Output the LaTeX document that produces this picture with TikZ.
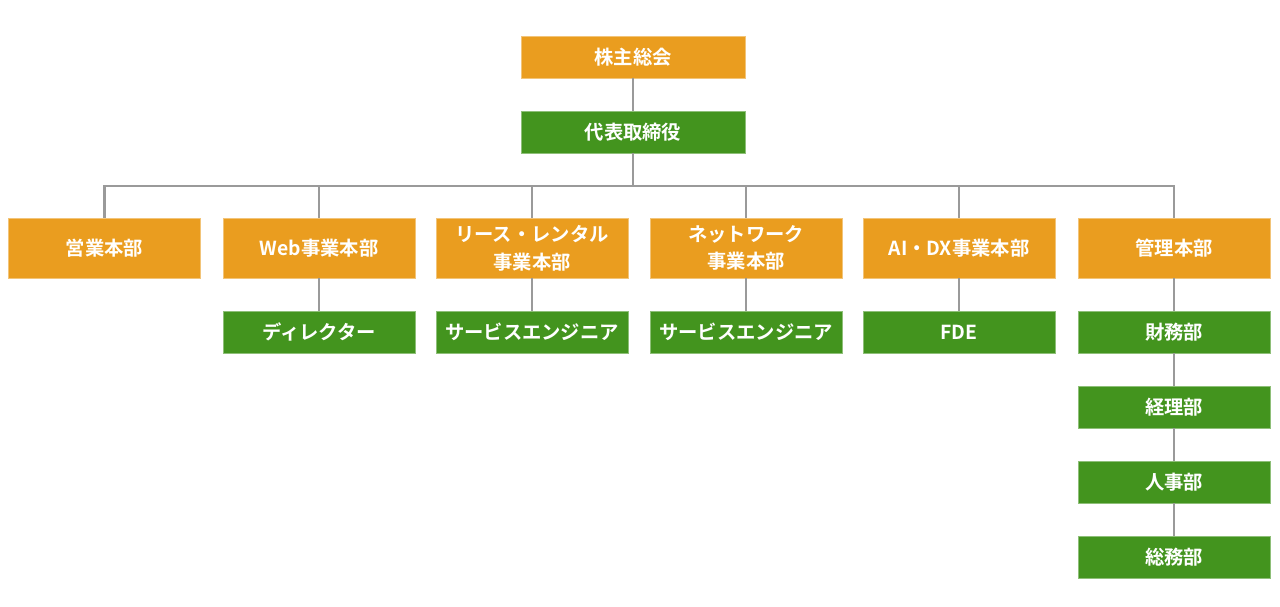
\documentclass[tikz,border=0pt]{standalone}
\usepackage{fontspec}
\setmainfont{Noto Sans CJK JP}[BoldFont={Noto Sans CJK JP Bold}]
\definecolor{orgOrange}{HTML}{EA9D1F}
\definecolor{orgGreen}{HTML}{43941E}
\definecolor{orgLine}{HTML}{9A9A9A}
\usetikzlibrary{positioning}

\begin{document}
\begin{tikzpicture}[
    x=0.02cm, y=-0.02cm,
    box/.style={rectangle, text centered, align=center, inner sep=0pt, font=\bfseries\fontsize{11}{15.8}\selectfont\color{white}},
    top/.style={box, fill=orgOrange, draw=orgOrange!60!white, minimum width=4.48cm, minimum height=0.84cm},
    ceobox/.style={box, fill=orgGreen, draw=orgGreen!60!white, minimum width=4.48cm, minimum height=0.84cm},
    div/.style={box, fill=orgOrange, draw=orgOrange!60!white, minimum width=3.84cm, minimum height=1.2cm},
    sub/.style={box, fill=orgGreen, draw=orgGreen!60!white, minimum width=3.84cm, minimum height=0.84cm},
    link/.style={draw=orgLine, line width=1.6pt}
]
\useasboundingbox (0,0) rectangle (1280,607);
% top
\node[top] (gm) at (633,57) {株主総会};
\node[ceobox] (ceo) at (633,132) {代表取締役};
\coordinate (bus) at (633,186);
% divisions
\node[div] (sales) at (104.5,248) {営業本部};
\node[div] (web) at (319,248) {Web事業本部};
\node[div] (lease) at (532,248) {リース・レンタル\\事業本部};
\node[div] (net) at (746,248) {ネットワーク\\事業本部};
\node[div] (aidx) at (959,248) {AI・DX事業本部};
\node[div] (admin) at (1174,248) {管理本部};
% sections
\node[sub] (dir) at (319,332) {ディレクター};
\node[sub] (svcA) at (532,332) {サービスエンジニア};
\node[sub] (svcB) at (746,332) {サービスエンジニア};
\node[sub] (fde) at (959,332) {FDE};
\node[sub] (fin) at (1174,332) {財務部};
\node[sub] (acc) at (1174,407) {経理部};
\node[sub] (hr) at (1174,482) {人事部};
\node[sub] (ga) at (1174,557) {総務部};
% links
\draw[link] (gm) -- (ceo);
\draw[link] (ceo) -- (bus);
\foreach \d in {sales,web,lease,net,aidx,admin}
  \draw[link] (bus) -| (\d);
\draw[link] (web) -- (dir);
\draw[link] (lease) -- (svcA);
\draw[link] (net) -- (svcB);
\draw[link] (aidx) -- (fde);
\draw[link] (admin) -- (fin);
\draw[link] (fin) -- (acc);
\draw[link] (acc) -- (hr);
\draw[link] (hr) -- (ga);
\end{tikzpicture}
\end{document}
